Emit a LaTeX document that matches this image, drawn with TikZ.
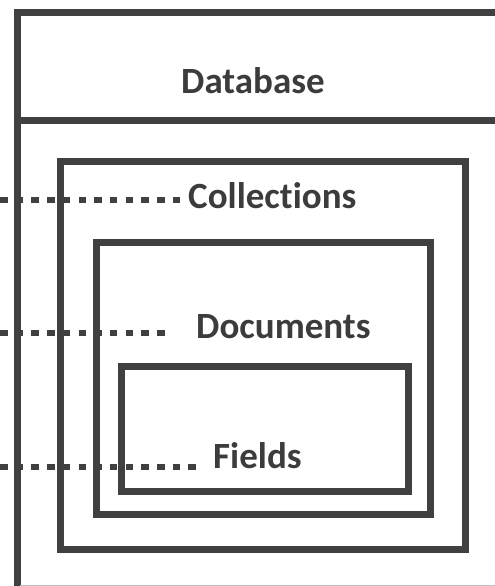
\documentclass[tikz,border=0pt]{standalone}
\usepackage{fontspec}
\setmainfont{Carlito}[Ligatures={NoCommon,NoContextual}]
\usepackage{xcolor}
\definecolor{edgegray}{HTML}{404040}
\definecolor{inkgray}{HTML}{3C3C3C}

\begin{document}
\begin{tikzpicture}[
    x=1pt, y=-1pt,
    box/.style={
        draw=edgegray,
        line width=7pt,
        rectangle,
        inner sep=0pt,
    },
    label/.style={
        anchor=base west,
        inner sep=0pt,
        text=inkgray,
        font=\fontsize{37}{40}\selectfont\bfseries,
    },
    dots/.style={
        draw=edgegray,
        line width=6.5pt,
        dash pattern=on 7.5pt off 8.2pt,
    },
]

\useasboundingbox (0, 0) rectangle (495, 586);
\clip (0, 0) rectangle (495, 586);

\node[box, minimum width=520, minimum height=620] (DB) at (277, 322.5) {};
\draw[edgegray, line width=7pt] (DB.west |- 0, 120) -- (DB.east |- 0, 120);
\draw[black!25, line width=1pt] (20, 585.5) -- (495, 585.5);

\node[box, minimum width=405, minimum height=388] (COLL) at (262.5, 355) {};
\node[box, minimum width=334, minimum height=272] (DOCS) at (263, 378) {};
\node[box, minimum width=287, minimum height=125] (FLDS) at (264.5, 428.5) {};

\node[label] (DBtxt) at (181, 93) {Database};
\node[label] (COLLtxt) at (188, 208) {Collections};
\node[label] (DOCStxt) at (196, 338) {Documents};
\node[label] (FLDStxt) at (213, 468) {Fields};

\coordinate (COLLin) at (0, 200);
\coordinate (DOCSin) at (0, 333);
\coordinate (FLDSin) at (0, 467);

\draw[dots, shorten >=8pt] (COLLin) -- (COLLin -| COLLtxt.west);
\draw[dots, shorten >=29pt] (DOCSin) -- (DOCSin -| DOCStxt.west);
\draw[dots, shorten >=16pt] (FLDSin) -- (FLDSin -| FLDStxt.west);

\end{tikzpicture}
\end{document}
